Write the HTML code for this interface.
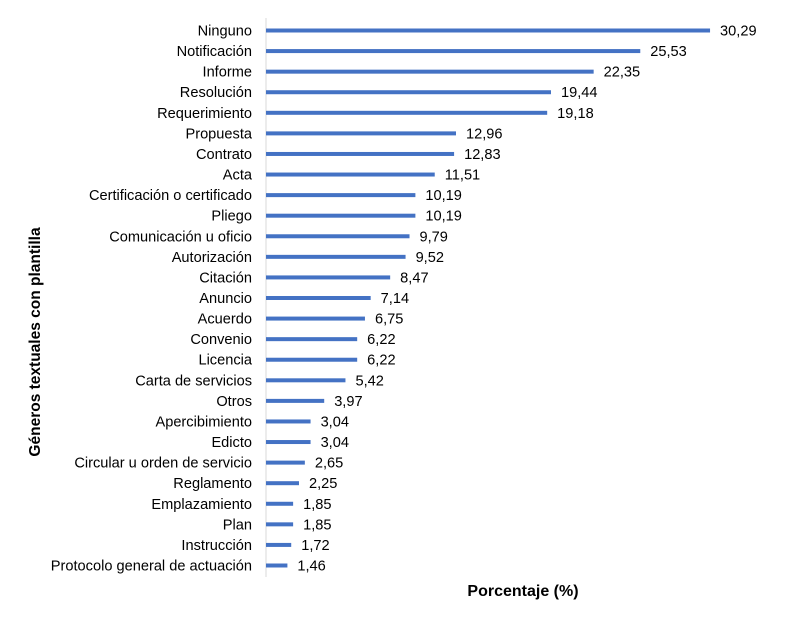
<!DOCTYPE html>
<html><head><meta charset="utf-8"><style>
body{margin:0;background:#fff;}
svg{font-family:"Liberation Sans",Arial,sans-serif;}
</style></head><body>
<svg id="chart" width="800" height="621">
<line x1="266" y1="18" x2="266" y2="577" stroke="#d9d9d9" stroke-width="1"/>
<text x="523" y="596" text-anchor="middle" font-size="16" font-weight="bold" fill="#000">Porcentaje (%)</text>
<text transform="translate(40,342) rotate(-90)" text-anchor="middle" font-size="15.5" font-weight="bold" fill="#000">Géneros textuales con plantilla</text>
<g id="bars"></g>
</svg>
<script>
const categories=["Ninguno","Notificación","Informe","Resolución","Requerimiento","Propuesta","Contrato","Acta","Certificación o certificado","Pliego","Comunicación u oficio","Autorización","Citación","Anuncio","Acuerdo","Convenio","Licencia","Carta de servicios","Otros","Apercibimiento","Edicto","Circular u orden de servicio","Reglamento","Emplazamiento","Plan","Instrucción","Protocolo general de actuación"];
const values=[30.29,25.53,22.35,19.44,19.18,12.96,12.83,11.51,10.19,10.19,9.79,9.52,8.47,7.14,6.75,6.22,6.22,5.42,3.97,3.04,3.04,2.65,2.25,1.85,1.85,1.72,1.46];
const x0=266, scale=14.66, y0=30.5, step=(565.5-30.5)/26;
const xs=v=>x0+v*scale;
const ys=i=>y0+i*step;
const g=document.getElementById('bars');
const NS='http://www.w3.org/2000/svg';
categories.forEach((c,i)=>{
  const y=ys(i), v=values[i];
  const r=document.createElementNS(NS,'rect');
  r.setAttribute('x',x0);r.setAttribute('y',y-2);
  r.setAttribute('width',xs(v)-x0);r.setAttribute('height',4);
  r.setAttribute('fill','#4472C4');
  
  
  g.appendChild(r);
  const t=document.createElementNS(NS,'text');
  t.setAttribute('x',252);t.setAttribute('y',y+5);
  t.setAttribute('text-anchor','end');t.setAttribute('font-size','14.6');
  t.textContent=c;
  
  
  g.appendChild(t);
  const l=document.createElementNS(NS,'text');
  l.setAttribute('x',xs(v)+10);l.setAttribute('y',y+5);
  l.setAttribute('font-size','14.6');
  l.textContent=v.toFixed(2).replace('.',',');
  
  
  g.appendChild(l);
});
</script>
</body></html>
